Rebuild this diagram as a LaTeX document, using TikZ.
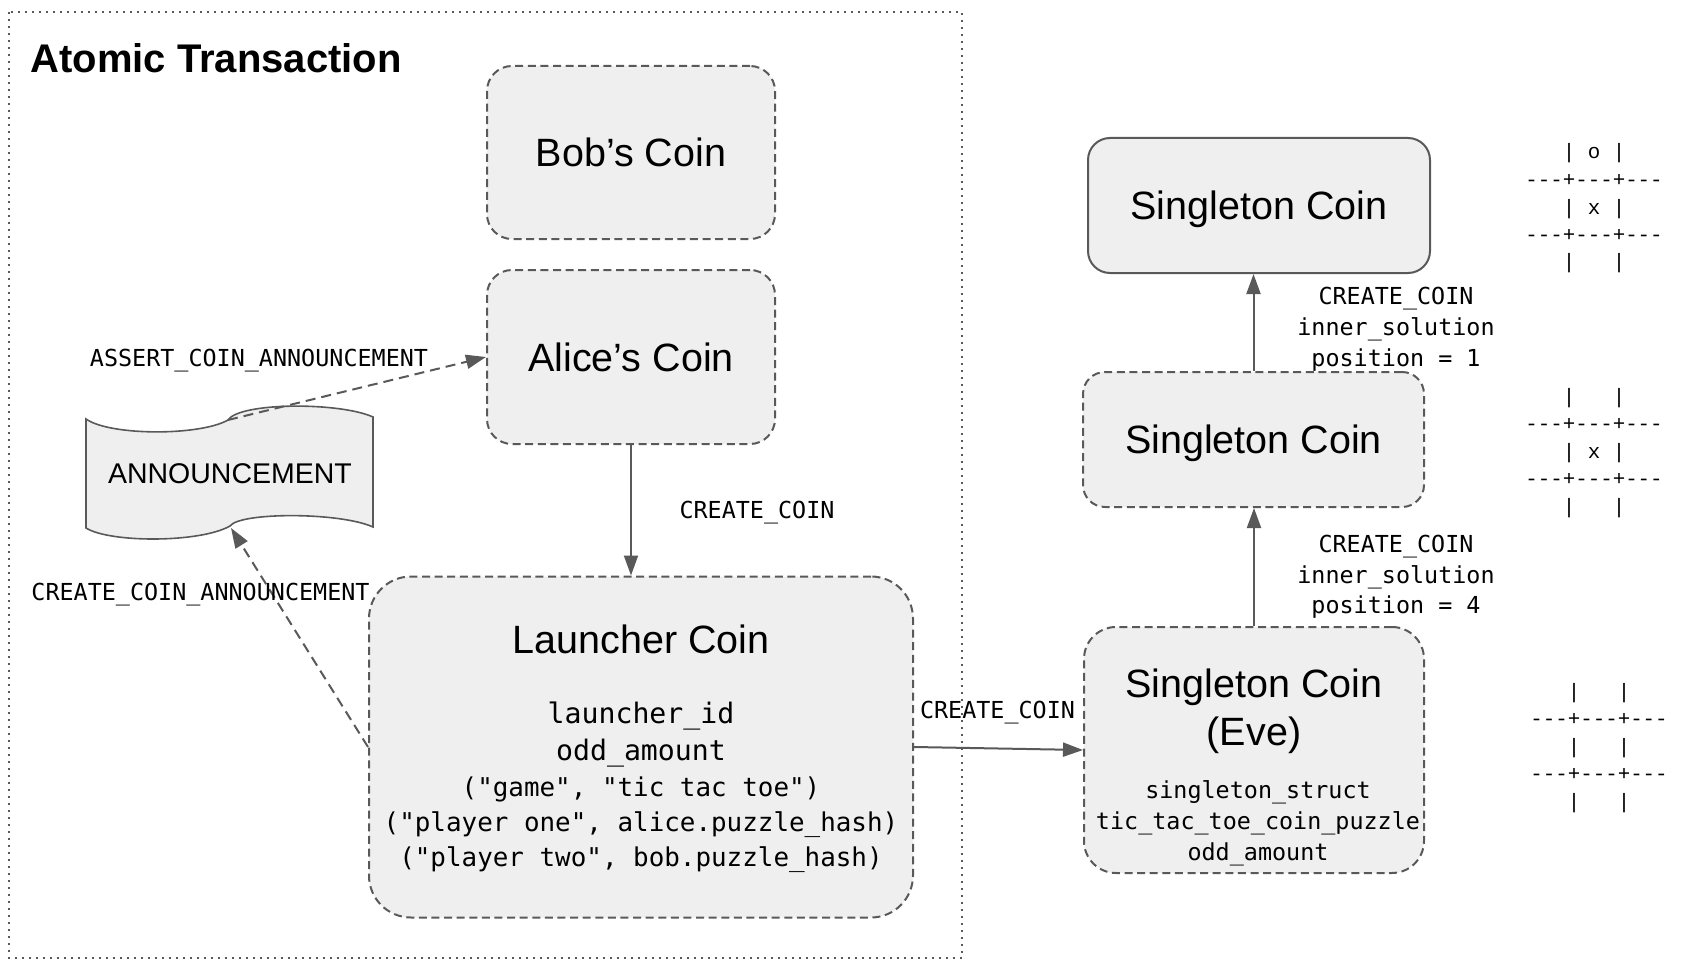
\documentclass[tikz,border=0pt]{standalone}
\usepackage{fontspec}
\setmainfont{Liberation Sans}
\newfontfamily\monof{DejaVu Sans Mono}
\newfontfamily\boardf{Liberation Mono}[Ligatures=TeXOff]
\usetikzlibrary{arrows.meta}
\definecolor{linec}{HTML}{595959}
\definecolor{fillc}{HTML}{EFEFEF}
\newcommand\fBig{\fontsize{19.75pt}{24pt}\selectfont}
\newcommand\fTitle{\fontsize{20pt}{24pt}\selectfont\bfseries}
\newcommand\fAnn{\fontsize{14.25pt}{17pt}\selectfont}
\newcommand\fLbl{\monof\fontsize{11.7pt}{14pt}\selectfont}
\newcommand\fLa{\monof\fontsize{14.1pt}{17pt}\selectfont}
\newcommand\fLb{\monof\fontsize{12.95pt}{16pt}\selectfont}
\newcommand\fBoard{\boardf\fontsize{10.4pt}{12pt}\selectfont}
\begin{document}
\begin{tikzpicture}[x=0.5pt,y=-0.5pt,
  coinbox/.style={draw=linec, fill=fillc, line width=1pt, dash pattern=on 4pt off 2.3pt,
    inner sep=0pt, font=\fBig, text depth=0pt},
  txt/.style={anchor=base, inner sep=0pt},
  lbl/.style={anchor=base, inner sep=0pt, font=\fLbl},
  arr/.style={draw=linec, line width=1pt, -{Triangle[length=10pt,width=7pt]}},
  dashline/.style={dash pattern=on 5pt off 3pt},
  boardrow/.style={anchor=base west, inner sep=0pt, font=\fBoard}]
\useasboundingbox (0,0) rectangle (1688,974);
% frame
\draw[linec, line width=1pt, dash pattern=on 0.9pt off 2.6pt] (9,12) rectangle (962,958);
\node[anchor=base west, inner sep=0pt, font=\fTitle] (title) at (30,73) {Atomic Transaction};
% coins
\node[coinbox, minimum width=144pt, minimum height=86.5pt, rounded corners=12.5pt] (bob) at (631,152.5) {Bob’s Coin};
\node[coinbox, minimum width=144pt, minimum height=87pt, rounded corners=12.5pt] (alice) at (631,357) {Alice’s Coin};
\node[coinbox, minimum width=272pt, minimum height=170.5pt, rounded corners=21pt] (launcher) at (641,747) {};
\node[coinbox, solid, minimum width=171pt, minimum height=67.5pt, rounded corners=11pt] (s2) at (1259,205.5) {Singleton Coin};
\node[coinbox, minimum width=170.5pt, minimum height=67.5pt, rounded corners=11pt] (s1) at (1253.5,439.5) {Singleton Coin};
\node[coinbox, minimum width=170pt, minimum height=123pt, rounded corners=16pt] (eve) at (1254,750) {};
% launcher text
\node[txt, font=\fBig] (lt) at (641,653) {Launcher Coin};
\node[txt, font=\fLa] (l1) at (641,723) {launcher\_id};
\node[txt, font=\fLa] (l2) at (641,760) {odd\_amount};
\node[txt, font=\fLb] (l3) at (641,796) {("game", "tic tac toe")};
\node[txt, font=\fLb] (l4) at (641,831) {("player one", alice.puzzle\_hash)};
\node[txt, font=\fLb] (l5) at (641,866) {("player two", bob.puzzle\_hash)};
% eve text
\node[txt, font=\fBig] (et) at (1254,697) {Singleton Coin};
\node[txt, font=\fBig] (ee) at (1254,745) {(Eve)};
\node[lbl] (e1) at (1258,798) {singleton\_struct};
\node[lbl] (e2) at (1258,829) {tic\_tac\_toe\_coin\_puzzle};
\node[lbl] (e3) at (1258,860) {odd\_amount};
% announcement
\draw[fill=fillc, draw=linec, line width=0.8pt]
  (86,419) .. controls (110,436) and (200,436) .. (228,420)
  .. controls (240,402) and (340,402) .. (373,417) -- (373,527)
  .. controls (340,512) and (240,512) .. (230,526)
  .. controls (200,543) and (110,543) .. (86,528) -- cycle;
\coordinate (anntop) at (228,420);
\coordinate (annbot) at (231,528);
\node[txt, font=\fAnn] (ann) at (230,483) {ANNOUNCEMENT};
% connectors
\draw[arr] (alice.south) -- (alice.south |- launcher.north);
\draw[arr] (launcher.east) -- (eve.west);
\draw[arr] (eve.north) -- (eve.north |- s1.south);
\draw[arr] (s1.north) -- (s1.north |- s2.south);
\draw[arr, dashline] (anntop) -- (alice.west);
\draw[arr, dashline] (launcher.west) -- (annbot);
% edge labels
\node[lbl] (c1) at (757,518) {CREATE\_COIN};
\node[lbl] (c2) at (997.5,718) {CREATE\_COIN};
\node[lbl] (c3) at (259,366) {ASSERT\_COIN\_ANNOUNCEMENT};
\node[lbl] (c4) at (200.5,600) {CREATE\_COIN\_ANNOUNCEMENT};
\node[lbl] (ta1) at (1396,304) {CREATE\_COIN};
\node[lbl] (ta2) at (1396,335) {inner\_solution};
\node[lbl] (ta3) at (1396,366) {position = 1};
\node[lbl] (tb1) at (1396,552) {CREATE\_COIN};
\node[lbl] (tb2) at (1396,583) {inner\_solution};
\node[lbl] (tb3) at (1396,613) {position = 4};
% boards
\foreach \i/\t in {0/{~~~|~o~|},1/{---+---+---},2/{~~~|~x~|},3/{---+---+---},4/{~~~|~~~|}}
  \node[boardrow, name=ba\i] at (1525,{159+27.5*\i}) {\t};
\foreach \i/\t in {0/{~~~|~~~|},1/{---+---+---},2/{~~~|~x~|},3/{---+---+---},4/{~~~|~~~|}}
  \node[boardrow, name=bb\i] at (1525,{403+27.5*\i}) {\t};
\foreach \i/\t in {0/{~~~|~~~|},1/{---+---+---},2/{~~~|~~~|},3/{---+---+---},4/{~~~|~~~|}}
  \node[boardrow, name=bc\i] at (1530,{698+27.5*\i}) {\t};
\end{tikzpicture}
\end{document}
